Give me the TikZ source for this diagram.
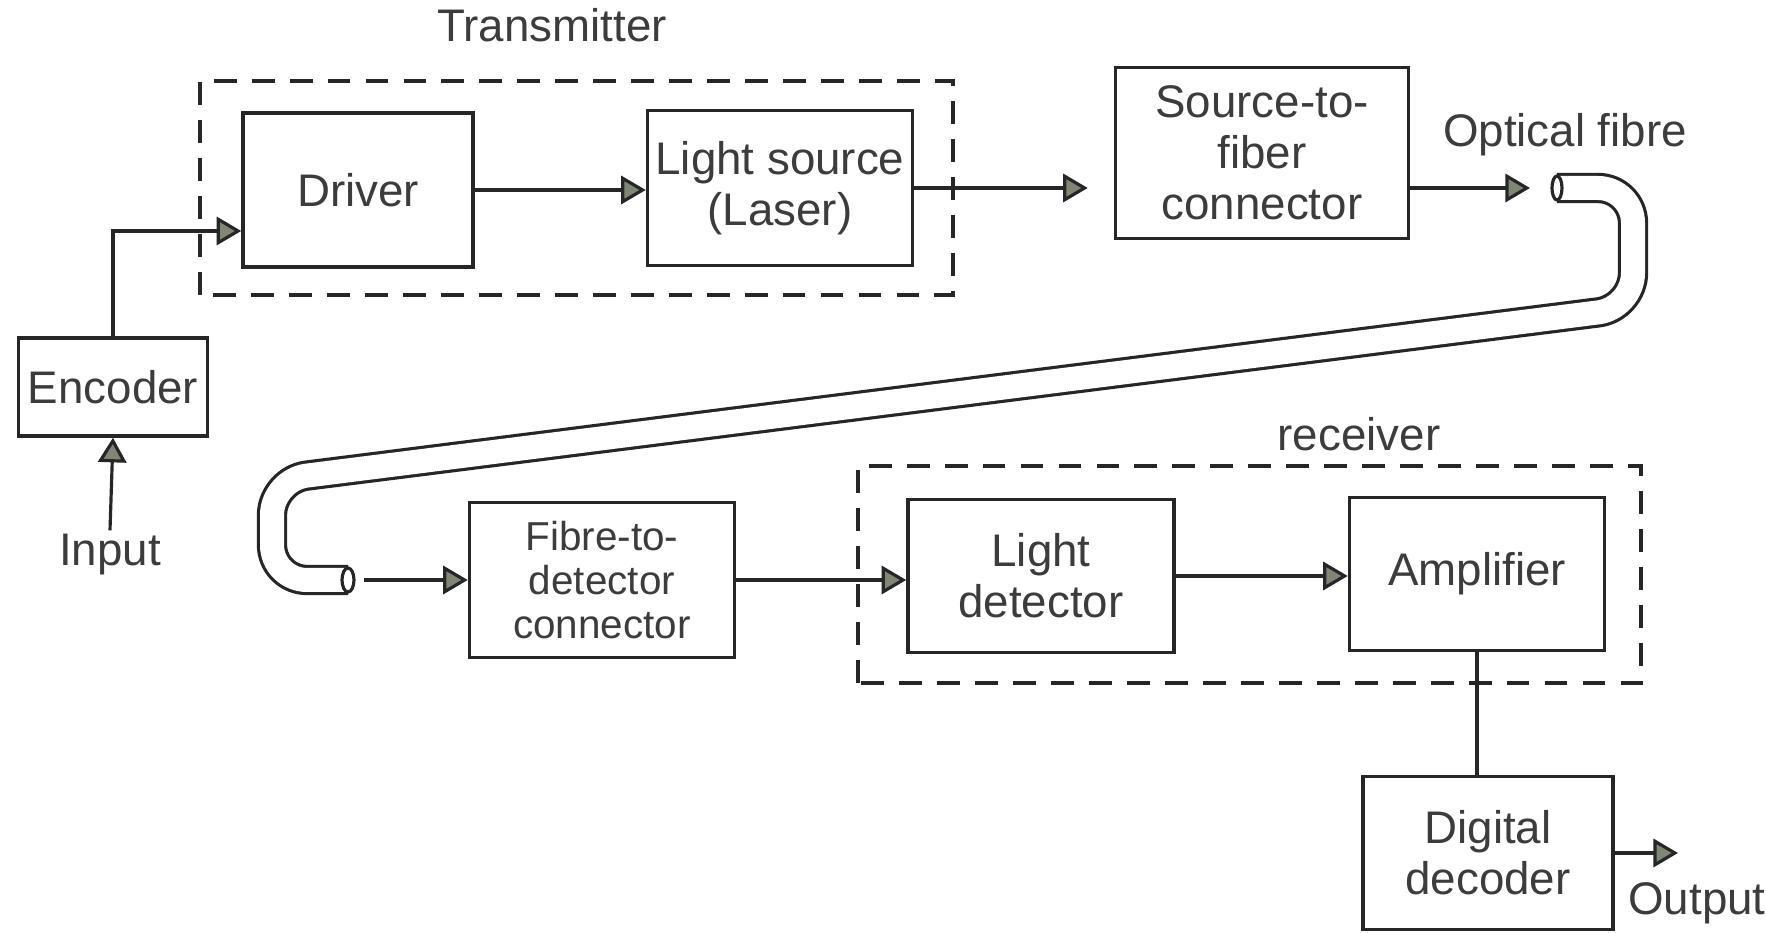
\documentclass[tikz,border=0pt]{standalone}
\usepackage{fontspec}
\setmainfont{Liberation Sans}
\usetikzlibrary{arrows.meta,calc}
\definecolor{ink}{HTML}{262626}
\definecolor{txt}{HTML}{3C3C3C}
\definecolor{tipgray}{RGB}{128,134,118}

\begin{document}
\begin{tikzpicture}[
  blk/.style={draw=ink,line width=1pt,text=txt,align=center,inner sep=2pt,
    font=\fontsize{13}{14.5}\selectfont},
  lbl/.style={text=txt,inner sep=1pt,font=\fontsize{13}{14.5}\selectfont},
  arr/.style={draw=ink,line width=0.9pt,-{Triangle[length=7pt,width=8pt,fill=tipgray]}},
  grp/.style={draw=ink,line width=1.4pt,dash pattern=on 6.5pt off 4.3pt},
  fib/.style={draw=ink,line width=0.9pt,double=white,double distance=0.24cm,rounded corners=0.35cm}
]
\useasboundingbox (0,0) rectangle (17.66,9.32);

% groups
\draw[grp] (2.00,6.37) rectangle (9.53,8.51);
\draw[grp] (8.58,2.49) rectangle (16.41,4.66);
\node[lbl] (tx) at (5.52,9.07) {Transmitter};
\node[lbl] (rx) at (13.59,4.98) {receiver};

% blocks
\node[blk,minimum width=1.89cm,minimum height=0.98cm] (enc) at (1.13,5.45) {Encoder};
\node[blk,minimum width=2.30cm,minimum height=1.54cm] (drv) at (3.58,7.42) {Driver};
\node[blk,minimum width=2.65cm,minimum height=1.55cm] (lsrc) at (7.80,7.44) {Light source\\(Laser)};
\node[blk,minimum width=2.93cm,minimum height=1.71cm] (sfc) at (12.62,7.79) {Source-to-\\fiber\\connector};
\node[blk,minimum width=2.65cm,minimum height=1.55cm,font=\fontsize{11.5}{12.5}\selectfont]
  (fdc) at (6.02,3.52) {Fibre-to-\\detector\\connector};
\node[blk,minimum width=2.66cm,minimum height=1.53cm] (ldet) at (10.41,3.56) {Light\\detector};
\node[blk,minimum width=2.55cm,minimum height=1.53cm] (amp) at (14.77,3.58) {Amplifier};
\node[blk,minimum width=2.50cm,minimum height=1.53cm] (dec) at (14.88,0.79) {Digital\\decoder};

% labels
\node[lbl] (inp) at (1.10,3.77) {Input};
\node[lbl] (outp) at (16.97,0.29) {Output};
\node[lbl] (ofib) at (15.65,7.97) {Optical fibre};

% fibre
\coordinate (fin) at (15.57,7.44);
\coordinate (fout) at (3.48,3.52);
\coordinate (outtip) at (16.78,0.79);
\draw[fib] (fin) -- (16.33,7.44) -- (16.33,6.24) -- (2.72,4.52) -- (2.72,3.52) -- (fout);
\draw[ink,line width=0.9pt,fill=white] (fin) ellipse (0.05 and 0.12);
\draw[ink,line width=0.9pt,fill=white] (fout) ellipse (0.06 and 0.12);

% arrows
\draw[arr] (inp.north) -- (enc.south);
\draw[arr] (enc.north) |- ([yshift=-0.41cm]drv.west);
\draw[arr] (drv.east) -- (drv.east -| lsrc.west);
\draw[arr,shorten >=0.26cm] (lsrc.east) -- (lsrc.east -| sfc.west);
\draw[arr,shorten >=0.27cm] (sfc.east |- fin) -- (fin);
\draw[arr,shorten <=0.16cm] (fout) -- (fout -| fdc.west);
\draw[arr] (fdc.east) -- (fdc.east -| ldet.west);
\draw[arr] (ldet.east) -- (ldet.east -| amp.west);
\draw[ink,line width=0.9pt] (amp.south) -- (amp.south |- dec.north);
\draw[arr] (dec.east) -- (outtip);

\end{tikzpicture}
\end{document}
